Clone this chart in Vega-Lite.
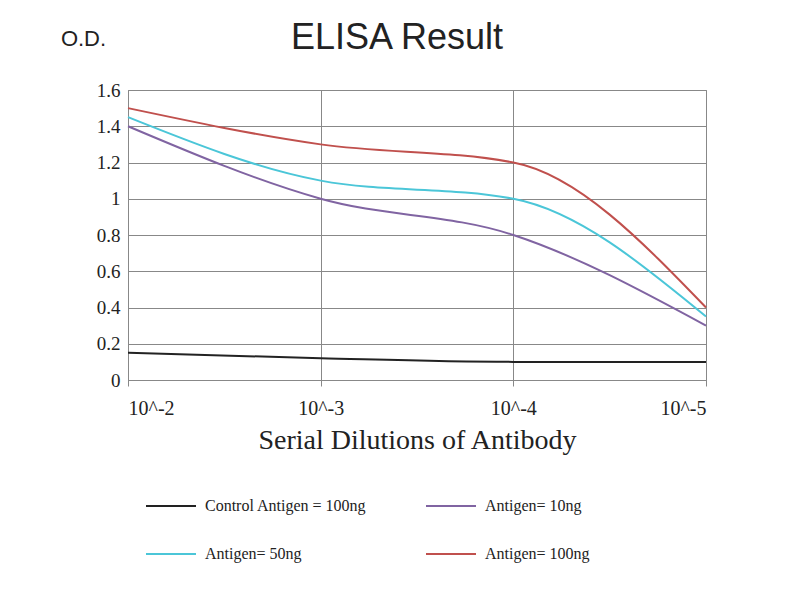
{
  "$schema": "https://vega.github.io/schema/vega-lite/v6.json",
  "width": 578,
  "height": 290,
  "autosize": "none",
  "padding": {"left": 128, "top": 90, "right": 94, "bottom": 220},
  "background": "white",
  "title": {"text": "ELISA Result", "font": "Liberation Sans", "fontSize": 36, "fontWeight": "normal", "color": "#222", "offset": 10, "dy": 40, "dx": -20},
  "data": {"values": [
    {"x": 0, "s": "Control Antigen = 100ng", "y": 0.15},
    {"x": 1, "s": "Control Antigen = 100ng", "y": 0.12},
    {"x": 2, "s": "Control Antigen = 100ng", "y": 0.1},
    {"x": 3, "s": "Control Antigen = 100ng", "y": 0.1},
    {"x": 0, "s": "Antigen= 10ng", "y": 1.4},
    {"x": 1, "s": "Antigen= 10ng", "y": 1.0},
    {"x": 2, "s": "Antigen= 10ng", "y": 0.8},
    {"x": 3, "s": "Antigen= 10ng", "y": 0.3},
    {"x": 0, "s": "Antigen= 50ng", "y": 1.45},
    {"x": 1, "s": "Antigen= 50ng", "y": 1.1},
    {"x": 2, "s": "Antigen= 50ng", "y": 1.0},
    {"x": 3, "s": "Antigen= 50ng", "y": 0.35},
    {"x": 0, "s": "Antigen= 100ng", "y": 1.5},
    {"x": 1, "s": "Antigen= 100ng", "y": 1.3},
    {"x": 2, "s": "Antigen= 100ng", "y": 1.2},
    {"x": 3, "s": "Antigen= 100ng", "y": 0.4}
  ]},
  "mark": {"type": "line", "interpolate": "monotone", "strokeWidth": 2},
  "encoding": {
    "x": {"field": "x", "type": "quantitative", "scale": {"domain": [0, 3], "nice": false},
      "axis": {"values": [0, 1, 2, 3], "labelExpr": "['10^-2','10^-3','10^-4','10^-5'][datum.value]",
        "title": "Serial  Dilutions  of Antibody", "titleFont": "Liberation Serif", "titleFontSize": 28, "titleFontWeight": "normal", "titleColor": "#222", "titlePadding": 8,
        "labelFont": "Liberation Serif", "labelFontSize": 20, "labelColor": "#222", "labelPadding": 12, "tickSize": 6, "domainColor": "#888", "tickColor": "#888", "gridColor": "#888"}},
    "y": {"field": "y", "type": "quantitative", "scale": {"domain": [0, 1.6], "nice": false},
      "axis": {"values": [0, 0.2, 0.4, 0.6, 0.8, 1, 1.2, 1.4, 1.6], "labelExpr": "datum.value + ''", "labelFont": "Liberation Serif", "labelFontSize": 19, "labelColor": "#222", "tickSize": 0, "labelPadding": 8,
        "title": "O.D.", "titleAngle": 0, "titleFont": "Liberation Sans", "titleFontSize": 22, "titleFontWeight": "normal", "titleColor": "#222", "titleX": -45, "titleY": -40, "titleAlign": "center",
        "domainColor": "#888", "gridColor": "#888"}},
    "color": {"field": "s", "type": "nominal",
      "scale": {"domain": ["Control Antigen = 100ng", "Antigen= 50ng", "Antigen= 10ng", "Antigen= 100ng"], "range": ["#222222", "#4bc6d8", "#8064a2", "#c0504d"]},
      "legend": {"orient": "none", "legendX": 17, "legendY": 390, "columns": 2, "title": null, "symbolType": "stroke", "symbolSize": 2500, "symbolStrokeWidth": 2,
        "labelFont": "Liberation Serif", "labelFontSize": 16, "labelColor": "#222", "labelLimit": 300, "rowPadding": 14, "columnPadding": 55, "labelOffset": 8}}
  },
  "config": {"view": {"stroke": "#888"}}
}
